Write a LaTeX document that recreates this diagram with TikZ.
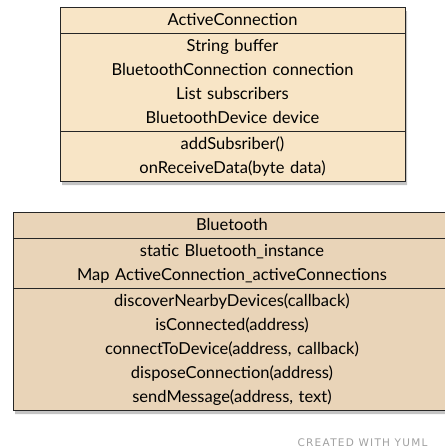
\documentclass[tikz,border=0pt]{standalone}
\usepackage{fontspec}
\setmainfont{Lato}
\newfontfamily\creditfont[LetterSpace=12]{DejaVu Sans}
\usetikzlibrary{shapes.multipart,shadows}
\definecolor{creamfill}{HTML}{F8E5C6}
\definecolor{tanfill}{HTML}{E9D4B8}
\definecolor{shadowgray}{HTML}{C4C4C4}
\definecolor{creditgray}{HTML}{A0A0A0}
\newcommand\umlstrut{\rule[-7pt]{0pt}{24pt}}

\begin{document}
\begin{tikzpicture}[
      x=1pt, y=-1pt,
      font=\fontsize{16.5}{24}\selectfont,
      umlclass/.style={draw=black!85, line width=1pt, rectangle split, rectangle split parts=3,
        align=center, text width=#1, inner xsep=0pt, inner ysep=0.5pt,
        general shadow={fill=shadowgray, draw=none, shadow xshift=2pt, shadow yshift=-3.5pt}},
      credit/.style={text=creditgray, font=\creditfont\fontsize{10.5}{12}\selectfont}
    ]
    \useasboundingbox (0,0) rectangle (445,448);
    % ActiveConnection class
    \node[umlclass=345pt, fill=creamfill, anchor=north] (active) at (232.5,7)
      {\umlstrut ActiveConnection
       \nodepart{two}\umlstrut String buffer\\
        \umlstrut BluetoothConnection connection\\
        \umlstrut List subscribers\\
        \umlstrut BluetoothDevice device
       \nodepart{three}\umlstrut addSubsriber()\\
        \umlstrut onReceiveData(byte data)};
    % Bluetooth class
    \node[umlclass=438pt, fill=tanfill, anchor=north] (bt) at (232,212)
      {\umlstrut Bluetooth
       \nodepart{two}\umlstrut static Bluetooth\_instance\\
        \umlstrut Map ActiveConnection\_activeConnections
       \nodepart{three}\umlstrut discoverNearbyDevices(callback)\\
        \umlstrut isConnected(address)\\
        \umlstrut connectToDevice(address, callback)\\
        \umlstrut disposeConnection(address)\\
        \umlstrut sendMessage(address, text)};
    \node[credit, anchor=east] (yuml) at (431,443) {CREATED WITH YUML};
  \end{tikzpicture}
\end{document}
